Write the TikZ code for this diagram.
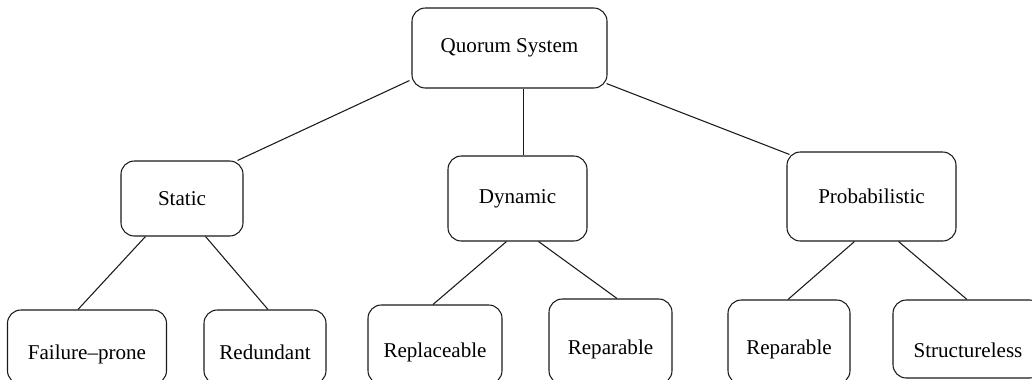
\documentclass[tikz,border=0pt]{standalone}
\usepackage{fontspec}
\setmainfont{Liberation Serif}
\usepackage{tikz}
\usetikzlibrary{
  calc,
  positioning
}
\definecolor{edgegrey}{HTML}{1A1A1A}
\tikzset{
  qbox/.style={
    rectangle, rounded corners=10pt, draw=edgegrey, fill=white,
    line width=0.8pt, align=center, inner sep=0pt,
    font=\fontsize{15.8}{19}\selectfont
  },
  leafbox/.style={
    qbox, text height=19pt, text depth=0pt
  },
  boxsize/.style 2 args={
    minimum width=#1*0.75pt, minimum height=#2*0.75pt
  },
  link/.style={
    line width=0.8pt, color=edgegrey
  },
}

\begin{document}
\begin{tikzpicture}[x=0.75pt, y=-0.75pt]
  \useasboundingbox (0,0) rectangle (1032,379);
  \clip (0,0) rectangle (1032,379);

  % root and second level
  \node[qbox, boxsize={195}{80}] (q) at (509.5,48) {Quorum System};
  \node[qbox, boxsize={122}{75}] (st) at (182,198.5) {Static};
  \node[qbox, boxsize={139}{85}] (dy) at (517.5,198.5) {Dynamic};
  \node[qbox, boxsize={169}{89}] (pr) at (871.5,196.5) {Probabilistic};

  % leaves
  \node[leafbox, boxsize={159}{74}] (fp) at (87,347) {Failure--prone};
  \node[leafbox, boxsize={122}{74}] (rd) at (265,347) {Redundant};
  \node[leafbox, boxsize={134}{79}] (rp) at (435,344.5) {Replaceable};
  \node[leafbox, boxsize={123}{85}] (ra) at (610.5,341.5) {Reparable};
  \node[leafbox, boxsize={122}{84}] (rb) at (789,342) {Reparable};
  \node[leafbox, boxsize={150}{78}, text height=28pt] (sl) at (968,339) {Structureless};

  \draw[link] ($(q.south west)+(-2,-8)$) -- ($(st.north east)+(-6,0)$);
  \draw[link] (dy.north) ++(6,0) coordinate (dtop) -- (dtop |- q.south);
  \draw[link] ($(q.south east)+(-1,-5)$) -- ($(pr.north west)+(3,3)$);

  \draw[link] ($(st.south west)+(25,0)$) -- ($(fp.north)+(-9,0)$);
  \draw[link] ($(st.south east)+(-38,0)$) -- ($(rd.north)+(3,0)$);
  \draw[link] ($(dy.south west)+(59,0)$) -- ($(rp.north)+(-2,0)$);
  \draw[link] ($(dy.south east)+(-49,0)$) -- ($(ra.north)+(6.5,0)$);
  \draw[link] ($(pr.south west)+(68,0)$) -- ($(rb.north)+(-1,0)$);
  \draw[link] ($(pr.south east)+(-58,0)$) -- ($(sl.north)+(-1,0)$);
\end{tikzpicture}
\end{document}
